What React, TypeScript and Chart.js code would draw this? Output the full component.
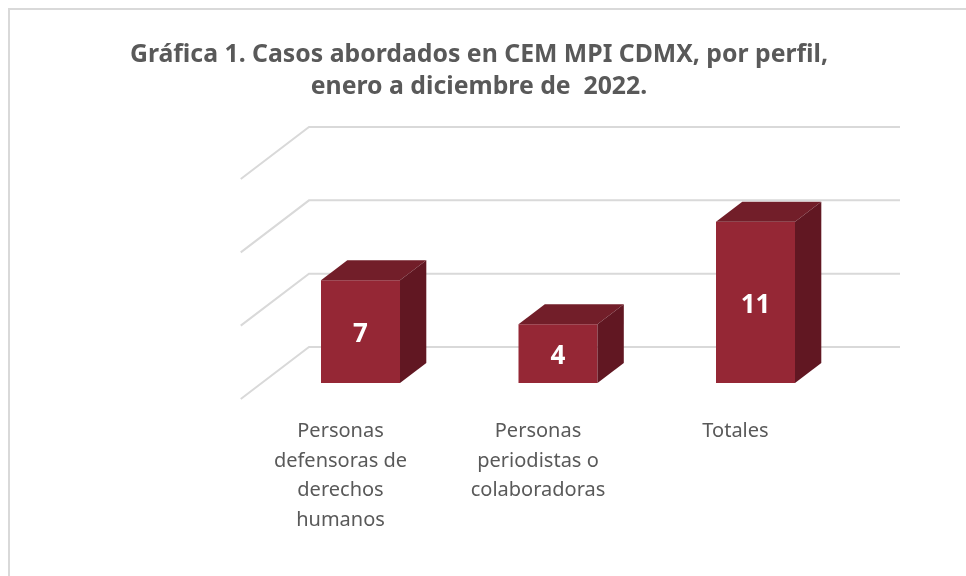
import React, { useEffect, useRef } from "react";
import { Chart, registerables } from "chart.js";

Chart.register(...registerables);

const categories: string[][] = [
  ["Personas", "defensoras de", "derechos", "humanos"],
  ["Personas", "periodistas o", "colaboradoras"],
  ["Totales"],
];
const values: number[] = [7, 4, 11];
const titleLines: string[] = [
  "Gráfica 1. Casos abordados en CEM MPI CDMX, por perfil,",
  "enero a diciembre de  2022.",
];
const FRONT = "#952735";
const TOP = "#721E29";
const SIDE = "#611722";
const GRID = "#D9D9D9";
const TEXT = "#595959";
const FONT = "'Noto Sans', 'Open Sans', sans-serif";

// 3D projection: bar depth and the extra floor depth in front of / behind the bars
const BAR_DX = 26.3;
const BAR_DY = 20;
const FLOOR_FRONT_DX = 21;
const FLOOR_FRONT_DY = 16;
const FLOOR_BACK_DX = 47.25;
const FLOOR_BACK_DY = 36;
const FLOOR_END_DX = 45.75;

const depth3d = {
  id: "depth3d",
  beforeDatasetsDraw(chart: any) {
    const { ctx, chartArea, scales } = chart;
    const y = scales.y;
    ctx.save();
    ctx.strokeStyle = GRID;
    ctx.lineWidth = 2;
    y.ticks.forEach((t: any) => {
      const py = y.getPixelForValue(t.value);
      ctx.beginPath();
      ctx.moveTo(chartArea.left - FLOOR_FRONT_DX, py + FLOOR_FRONT_DY);
      ctx.lineTo(chartArea.left + FLOOR_BACK_DX, py - FLOOR_BACK_DY);
      ctx.lineTo(chartArea.right + FLOOR_END_DX, py - FLOOR_BACK_DY);
      ctx.stroke();
    });
    ctx.restore();
  },
  afterDatasetsDraw(chart: any) {
    const { ctx } = chart;
    const meta = chart.getDatasetMeta(0);
    ctx.save();
    meta.data.forEach((bar: any, i: number) => {
      const { x, y, base, width } = bar.getProps(["x", "y", "base", "width"], true);
      const l = x - width / 2;
      const r = x + width / 2;
      ctx.fillStyle = TOP;
      ctx.beginPath();
      ctx.moveTo(l, y);
      ctx.lineTo(l + BAR_DX, y - BAR_DY);
      ctx.lineTo(r + BAR_DX, y - BAR_DY);
      ctx.lineTo(r, y);
      ctx.closePath();
      ctx.fill();
      ctx.fillStyle = SIDE;
      ctx.beginPath();
      ctx.moveTo(r, y);
      ctx.lineTo(r + BAR_DX, y - BAR_DY);
      ctx.lineTo(r + BAR_DX, base - BAR_DY);
      ctx.lineTo(r, base);
      ctx.closePath();
      ctx.fill();
      ctx.fillStyle = "#FFFFFF";
      ctx.font = `bold 26px ${FONT}`;
      ctx.textAlign = "center";
      ctx.textBaseline = "middle";
      ctx.fillText(String(values[i]), x, (y + base) / 2 + 3);
    });
    ctx.restore();
  },
};

export default function App() {
  const ref = useRef<HTMLCanvasElement>(null);
  useEffect(() => {
    const chart = new Chart(ref.current!, {
      type: "bar",
      data: {
        labels: categories as any,
        datasets: [
          {
            data: values,
            backgroundColor: FRONT,
            categoryPercentage: 0.4,
            barPercentage: 1,
            yAxisID: "y",
          },
        ],
      },
      options: {
        responsive: false,
        animation: false,
        layout: { padding: 0 },
        plugins: {
          legend: { display: false },
          tooltip: { enabled: false },
          title: {
            display: true,
            text: titleLines,
            color: TEXT,
            font: { family: FONT, size: 24.8, weight: "bold", lineHeight: 32 / 24.8 },
            padding: { top: 39, bottom: 60 },
          },
        },
        scales: {
          y: {
            display: true,
            position: "left",
            min: 0,
            max: 15,
            ticks: { stepSize: 5, display: false },
            grid: { display: false, drawTicks: false },
            border: { display: false },
            afterFit(scale: any) {
              scale.width = 261.75;
            },
          },
          yRight: {
            display: true,
            position: "right",
            min: 0,
            max: 15,
            ticks: { display: false },
            grid: { display: false, drawTicks: false },
            border: { display: false },
            afterFit(scale: any) {
              scale.width = 103.75;
            },
          },
          x: {
            afterFit(scale: any) {
              scale.height = 193;
            },
            grid: { display: false, drawTicks: false },
            border: { display: false },
            ticks: {
              color: TEXT,
              autoSkip: false,
              maxRotation: 0,
              minRotation: 0,
              labelOffset: -20,
              padding: 33.5,
              font: { family: FONT, size: 20, lineHeight: 29.6 / 20 },
            },
          },
        },
      },
      plugins: [depth3d],
    } as any);
    return () => chart.destroy();
  }, []);
  return (
    <div style={{ position: "absolute", left: 0, top: 0, width: 966, height: 576, overflow: "hidden", background: "#fff" }}>
      <div
        style={{
          position: "absolute",
          left: 8,
          top: 8,
          width: 958,
          height: 568,
          boxSizing: "border-box",
          borderLeft: "2px solid #D9D9D9",
          borderTop: "2px solid #D9D9D9",
        }}
      />
      <canvas ref={ref} width={958} height={576} style={{ position: "absolute", left: 0, top: 0 }} />
    </div>
  );
}
